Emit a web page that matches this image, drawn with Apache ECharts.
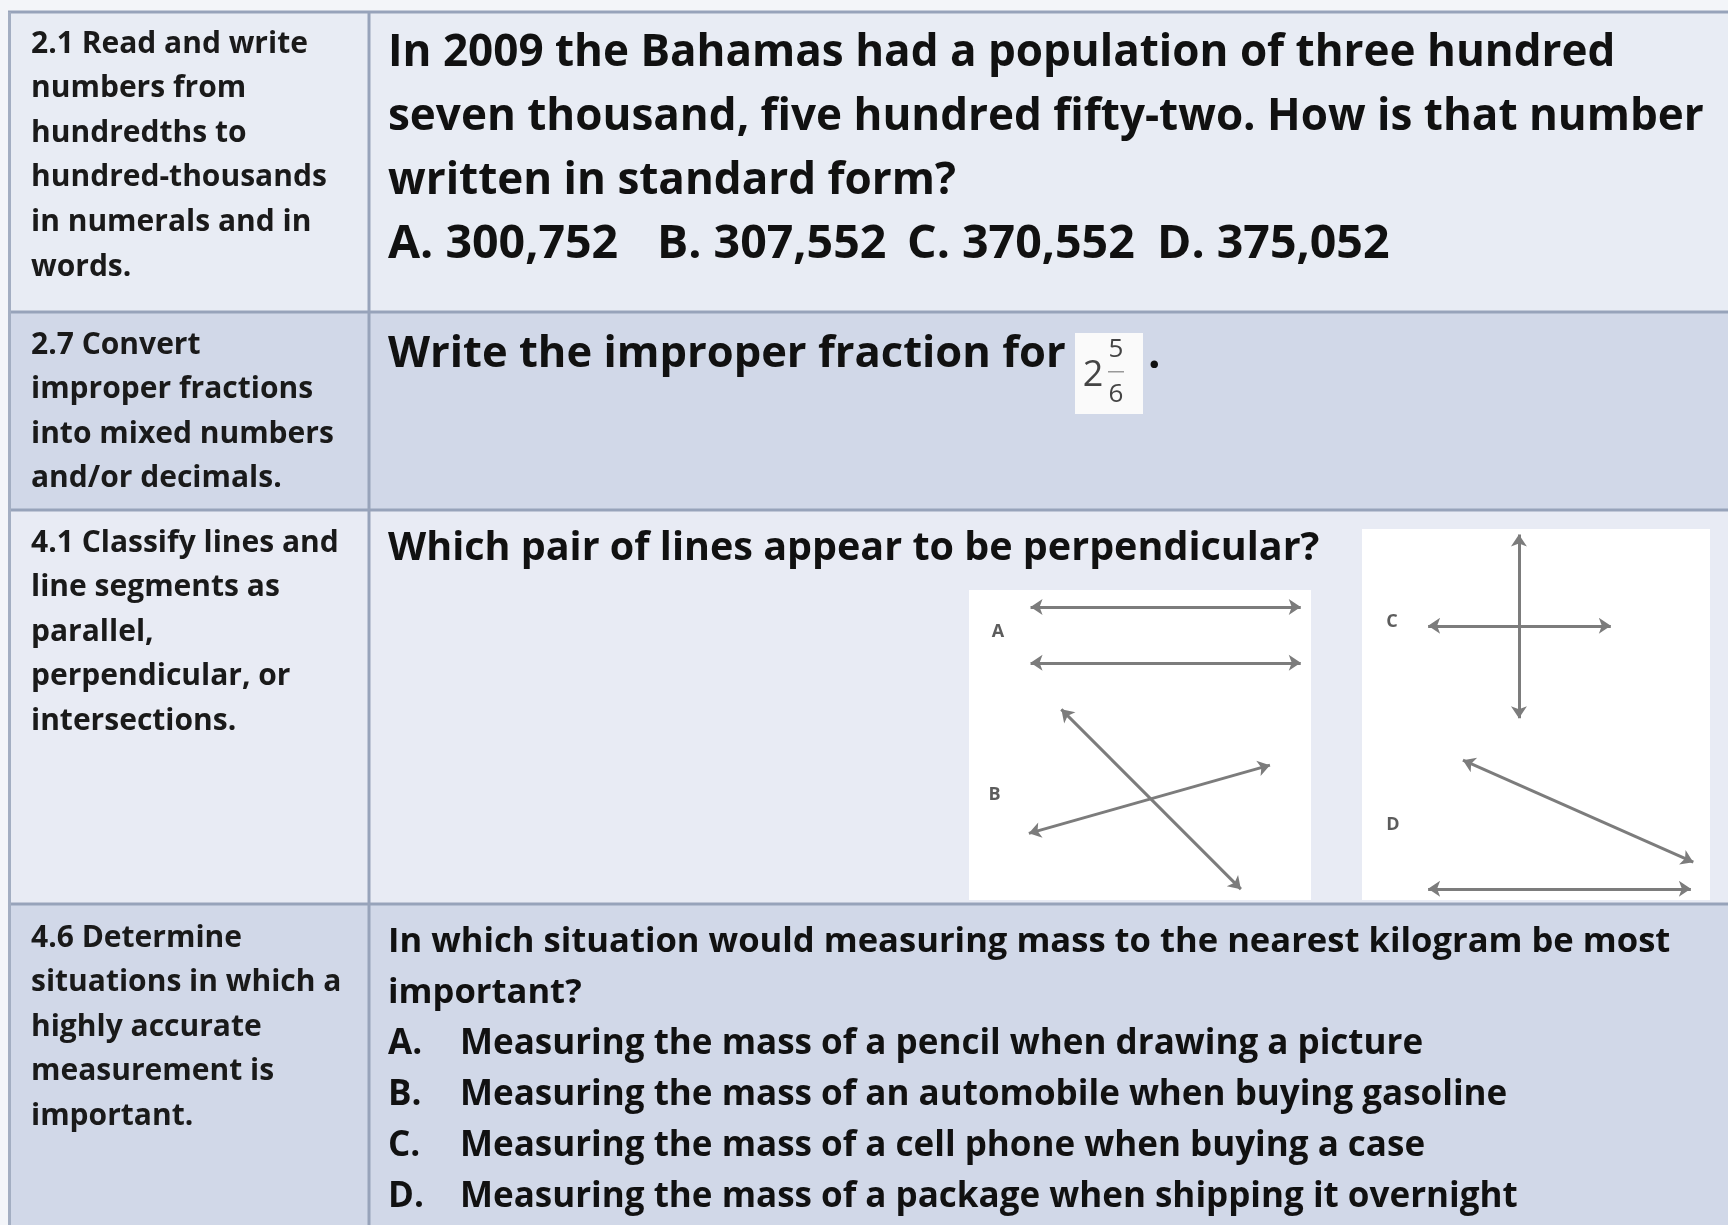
<!DOCTYPE html>
<html>
<head>
<meta charset="utf-8">
<script src="https://cdn.jsdelivr.net/npm/echarts@6/dist/echarts.min.js"></script>
<style>
  html, body { margin: 0; padding: 0; background: #f3f5f9; }
  #main { width: 1728px; height: 1225px; }
</style>
</head>
<body>
<div id="main"></div>
<script>
// standards column (one array of lines per row)
var standards = [
  ['2.1 Read and write', 'numbers from', 'hundredths to', 'hundred-thousands', 'in numerals and in', 'words.'],
  ['2.7 Convert', 'improper fractions', 'into mixed numbers', 'and/or decimals.'],
  ['4.1 Classify lines and', 'line segments as', 'parallel,', 'perpendicular, or', 'intersections.'],
  ['4.6 Determine', 'situations in which a', 'highly accurate', 'measurement is', 'important.']
];
// question column
var q1Lines = [
  'In 2009 the Bahamas had a population of three hundred',
  'seven thousand, five hundred fifty-two. How is that number',
  'written in standard form?'
];
var q1Choices = ['A. 300,752', 'B. 307,552', 'C. 370,552', 'D. 375,052'];
var q2Text = 'Write the improper fraction for';
var q2Fraction = { whole: '2', num: '5', den: '6' };
var q3Text = 'Which pair of lines appear to be perpendicular?';
var q4Lines = ['In which situation would measuring mass to the nearest kilogram be most', 'important?'];
var q4Letters = ['A.', 'B.', 'C.', 'D.'];
var q4Choices = [
  'Measuring the mass of a pencil when drawing a picture',
  'Measuring the mass of an automobile when buying gasoline',
  'Measuring the mass of a cell phone when buying a case',
  'Measuring the mass of a package when shipping it overnight'
];

// line diagrams, drawn in a 0-100 box each
var linesAB = [
  [[18, 5.5], [97, 5.5]],
  [[18, 23.5], [97, 23.5]],
  [[27, 38.5], [79.5, 96.5]],
  [[17.5, 78.5], [88, 56.5]]
];
var labelsAB = [['A', 8.5, 13.5], ['B', 7.5, 66]];
var linesCD = [
  [[45.1, 1.5], [45.1, 51]],
  [[19, 26.1], [71.5, 26.1]],
  [[29, 62.3], [95.2, 89.8]],
  [[19, 97], [94.5, 97]]
];
var labelsCD = [['C', 8.6, 25], ['D', 8.9, 79.8]];

var chart = echarts.init(document.getElementById('main'));

var W = 1728;
var colX = 369;
var rowTop = [12, 312, 510, 904];
var rowBottom = [312, 510, 904, 1240];
var rowFill = ['#e8ecf4', '#d1d8e8', '#e8ebf4', '#d1d8e8'];
var stdLineY = [44, 345, 543, 938];
var stdStep = 44.6;

var boldL = 'bold 30px "Open Sans"';
var g = [];

// table cells
for (var i = 0; i < 4; i++) {
  g.push({ type: 'rect', z: -10, shape: { x: 10, y: rowTop[i], width: W - 10, height: rowBottom[i] - rowTop[i] },
    style: { fill: rowFill[i] } });
}
// borders
rowTop.forEach(function (y) {
  g.push({ type: 'rect', z: -5, shape: { x: 8, y: y - 1.5, width: W, height: 3 }, style: { fill: '#97a3ba' } });
});
g.push({ type: 'rect', z: -5, shape: { x: 8, y: 12, width: 3, height: 1225 }, style: { fill: '#a3aec2' } });
g.push({ type: 'rect', z: -5, shape: { x: colX - 1.5, y: 12, width: 3, height: 1225 }, style: { fill: '#97a3ba' } });

// standards text
standards.forEach(function (lines, r) {
  lines.forEach(function (t, k) {
    g.push({ type: 'text', x: 31, y: stdLineY[r] + k * stdStep,
      style: { text: t, font: boldL, fill: '#1a1a1a', verticalAlign: 'middle' } });
  });
});

var bigFont = 'bold 44px "Open Sans"';
// question 1
q1Lines.forEach(function (t, k) {
  g.push({ type: 'text', x: 388, y: 53 + k * 64, style: { text: t, font: bigFont, fill: '#111', verticalAlign: 'middle' } });
});
var choiceX = [388, 657, 907, 1157];
q1Choices.forEach(function (t, k) {
  g.push({ type: 'text', x: choiceX[k], y: 245, style: { text: t, font: 'bold 46.5px "Open Sans"', fill: '#111', verticalAlign: 'middle' } });
});

// question 2 with the mixed number
g.push({ type: 'text', x: 388, y: 355, style: { text: q2Text, font: 'bold 43.5px "Open Sans"', fill: '#111', verticalAlign: 'middle' } });
g.push({ type: 'rect', shape: { x: 1075, y: 333, width: 68, height: 81 }, style: { fill: '#fafafa' } });
g.push({ type: 'text', x: 1093, y: 376, style: { text: q2Fraction.whole, font: '36px "Open Sans"', fill: '#444', align: 'center', verticalAlign: 'middle' } });
g.push({ type: 'text', x: 1116, y: 350, style: { text: q2Fraction.num, font: '26px "Open Sans"', fill: '#444', align: 'center', verticalAlign: 'middle' } });
g.push({ type: 'rect', shape: { x: 1108, y: 371, width: 16, height: 1.5 }, style: { fill: '#999' } });
g.push({ type: 'text', x: 1116, y: 395, style: { text: q2Fraction.den, font: '26px "Open Sans"', fill: '#444', align: 'center', verticalAlign: 'middle' } });
g.push({ type: 'text', x: 1148, y: 355, style: { text: '.', font: bigFont, fill: '#111', verticalAlign: 'middle' } });

// question 3
g.push({ type: 'text', x: 388, y: 549, style: { text: q3Text, font: 'bold 39.5px "Open Sans"', fill: '#111', verticalAlign: 'middle' } });

// question 4
q4Lines.forEach(function (t, k) {
  g.push({ type: 'text', x: 388, y: 942 + k * 51, style: { text: t, font: 'bold 34.6px "Open Sans"', fill: '#111', verticalAlign: 'middle' } });
});
var midFont = 'bold 35px "Open Sans"';
q4Choices.forEach(function (t, k) {
  g.push({ type: 'text', x: 388, y: 1044 + k * 51, style: { text: q4Letters[k], font: midFont, fill: '#111', verticalAlign: 'middle' } });
  g.push({ type: 'text', x: 460, y: 1044 + k * 51, style: { text: t, font: midFont, fill: '#111', verticalAlign: 'middle' } });
});

var boxes = [
  { left: 969, top: 590, width: 342, height: 310 },
  { left: 1362, top: 529, width: 348, height: 371 }
];
function axes(kind) {
  return boxes.map(function (b, i) {
    return { type: 'value', gridIndex: i, min: 0, max: 100, show: false, inverse: kind === 'y' };
  });
}
function segSeries(data, idx) {
  return {
    type: 'lines', coordinateSystem: 'cartesian2d', xAxisIndex: idx, yAxisIndex: idx,
    symbol: ['arrow', 'arrow'], symbolSize: 12, silent: true, z: 5,
    lineStyle: { color: '#7c7c7c', width: 3, opacity: 1 },
    data: data.map(function (s) { return { coords: s }; })
  };
}
function labelSeries(data, idx) {
  return {
    type: 'scatter', xAxisIndex: idx, yAxisIndex: idx, symbolSize: 0, silent: true,
    label: { show: true, position: 'inside', formatter: '{b}', color: '#333', fontFamily: 'Open Sans', fontWeight: 'bold', fontSize: 18 },
    data: data.map(function (d) { return { name: d[0], value: [d[1], d[2]] }; })
  };
}

chart.setOption({
  animation: false,
  grid: boxes.map(function (b) {
    return { left: b.left, top: b.top, width: b.width, height: b.height, show: true, backgroundColor: '#ffffff', borderWidth: 0 };
  }),
  xAxis: axes('x'),
  yAxis: axes('y'),
  graphic: { elements: g },
  series: [segSeries(linesAB, 0), segSeries(linesCD, 1), labelSeries(labelsAB, 0), labelSeries(labelsCD, 1)]
});
</script>
</body>
</html>
